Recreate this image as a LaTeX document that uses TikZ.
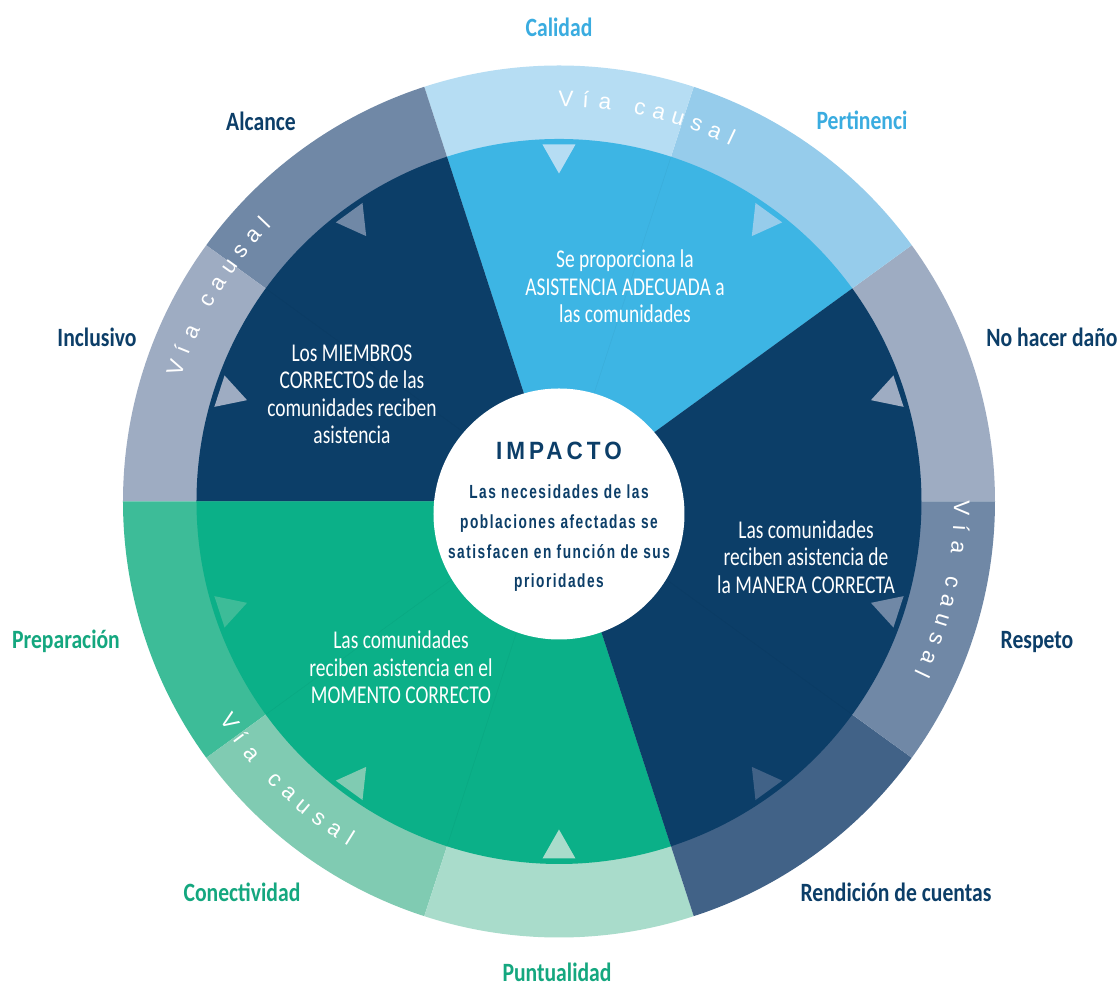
\documentclass[tikz,border=0pt]{standalone}
\usepackage{fontspec}
\setmainfont{Liberation Sans}
\newfontfamily\lblfont[FakeStretch=0.82]{Carlito}
\newfontfamily\condfont[FakeStretch=0.76]{Carlito}
\newfontfamily\impfont[FakeStretch=0.9,LetterSpace=16]{Liberation Sans}
\newfontfamily\ctrfont[FakeStretch=0.72,LetterSpace=8]{Liberation Sans}
\newfontfamily\viafont{Liberation Sans}
\usetikzlibrary{calc}
\definecolor{navy}{RGB}{12,62,104}
\definecolor{skyin}{RGB}{61,181,228}
\definecolor{greenin}{RGB}{11,176,136}
\definecolor{rCal}{RGB}{182,221,243}
\definecolor{rPer}{RGB}{150,204,235}
\definecolor{rGray}{RGB}{158,172,194}
\definecolor{rSlate}{RGB}{112,136,166}
\definecolor{rRend}{RGB}{65,98,135}
\definecolor{rPunt}{RGB}{169,220,203}
\definecolor{rCon}{RGB}{128,203,178}
\definecolor{rPrep}{RGB}{61,188,152}
\definecolor{lblue}{RGB}{58,172,224}
\definecolor{lgreen}{RGB}{20,167,127}
\begin{document}
\begin{tikzpicture}[x=1pt,y=1pt,
  lbl/.style={font=\lblfont\bfseries\fontsize{26.4}{30}\selectfont, inner sep=0pt, anchor=base},
  intext/.style={font=\condfont\fontsize{25.6}{27.5}\selectfont, text=white, align=center, inner sep=0pt},
  via/.style={font=\viafont\fontsize{22.5}{22.5}\selectfont, text=white, inner sep=0pt, anchor=base},
  seam/.style={line width=0.4pt},
  arrowtri/.style={draw=none}
]
\fill[white] (-559,-485.5) rectangle (561,501.5);
\useasboundingbox (-559,-485.5) rectangle (561,501.5);
% outer ring
\foreach \a/\c in {0/rGray,36/rPer,72/rCal,108/rSlate,144/rGray,180/rPrep,216/rCon,252/rPunt,288/rRend,324/rSlate}{
  \fill[\c] (0,0) -- (\a:436pt) arc[start angle=\a, delta angle=36, radius=436pt] -- cycle;
}
% inner sectors
\foreach \a/\b/\c in {36/108/skyin,108/180/navy,180/288/greenin,288/396/navy}{
  \fill[\c] (0,0) -- (\a:362.5pt) arc[start angle=\a, end angle=\b, radius=362.5pt] -- cycle;
}
% faint seams
\foreach \a/\c in {72/skyin,144/navy,216/greenin,252/greenin,324/navy}{
  \draw[seam, \c!95!black] (0,0) -- (\a:362pt);
}
% triangles
\foreach \a/\c in {90/rCal,54/rPer,18/rGray,-18/rSlate,-54/rRend,-90/rPunt,-126/rCon,-162/rPrep,162/rGray,126/rSlate}{
  \fill[arrowtri, \c, rotate=\a] (328,0) -- (357,16.5) -- (357,-16.5) -- cycle;
}
% hub
\node[circle, fill=white, minimum size=251pt, inner sep=0pt] (hub) at (0,-12.5) {};
% Via causal
\foreach \s/\d/\rb/\rot [count=\i] in {89/-1/395/-90, 160.8/-1/398/-90, -1/-1/395/-90, 213.8/1/404/90}{
  \foreach \ch/\o [count=\j] in {V/0,í/1,a/2,c/3.8,a/4.8,u/5.8,s/6.8,a/7.8,l/8.7}{
    \pgfmathsetmacro\ang{\s+\d*\o*2.8}
    \node[via, rotate=\ang+\rot] (via\i-\j) at (\ang:\rb pt) {\ch};
  }
}
% outer labels
\node[lbl, text=lblue] (calidad) at (0,465) {Calidad};
\node[lbl, text=lblue] (pertinencia) at (303,372) {Pertinenci};
\node[lbl, text=navy] (nohacer) at (493,155) {No hacer daño};
\node[lbl, text=navy] (respeto) at (478,-147) {Respeto};
\node[lbl, text=navy] (rendicion) at (337,-400) {Rendición de cuentas};
\node[lbl, text=lgreen] (puntualidad) at (-2,-480.5) {Puntualidad};
\node[lbl, text=lgreen] (conectividad) at (-317,-400) {Conectividad};
\node[lbl, text=lgreen] (preparacion) at (-493,-147) {Preparación};
\node[lbl, text=navy] (inclusivo) at (-462,155) {Inclusivo};
\node[lbl, text=navy] (alcance) at (-298,371) {Alcance};
% inner texts
\node[intext] (asist) at (66,215) {Se proporciona la\\ASISTENCIA ADECUADA a\\las comunidades};
\node[intext] (miembros) at (-207,107) {Los MIEMBROS\\CORRECTOS de las\\comunidades reciben\\asistencia};
\node[intext] (manera) at (247,-55.5) {Las comunidades\\reciben asistencia de\\la MANERA CORRECTA};
\node[intext] (momento) at (-158,-166) {Las comunidades\\reciben asistencia en el\\MOMENTO CORRECTO};
% center
\node[font=\impfont\bfseries\fontsize{25}{30}\selectfont, text=navy, inner sep=0pt, anchor=base] (impacto) at (0,41.5) {IMPACTO};
\node[font=\ctrfont\bfseries\fontsize{19}{29.7}\selectfont, text=navy, inner sep=0pt, align=center] (necesidades) at (0,-37) {Las necesidades de las\\poblaciones afectadas se\\satisfacen en función de sus\\prioridades};
\end{tikzpicture}
\end{document}
